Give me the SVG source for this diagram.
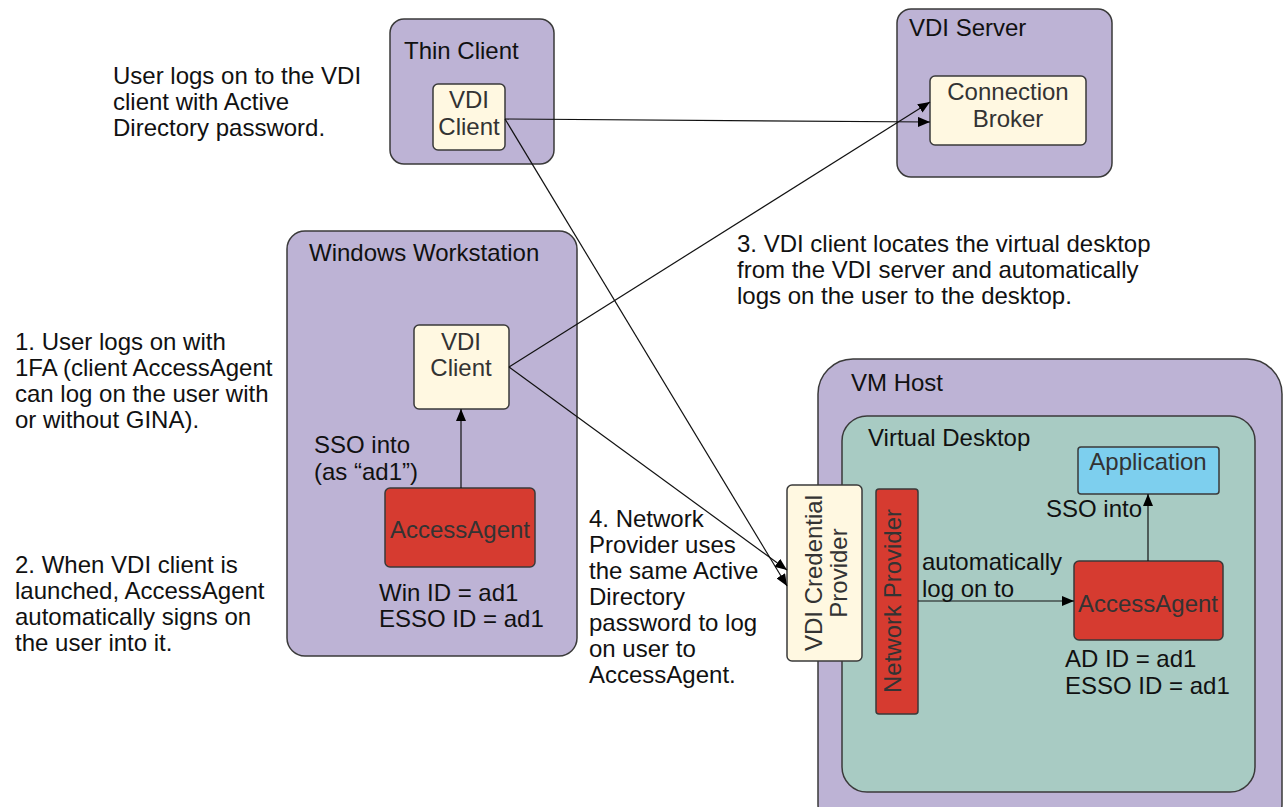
<svg xmlns="http://www.w3.org/2000/svg" width="1285" height="807" viewBox="0 0 1285 807">
<defs>
<style>
text{font-family:"Liberation Sans",Arial,sans-serif;font-size:24px;fill:#111}
.c{text-anchor:middle}
.ct{fill:#333}
.box{stroke:#3a3a3a;stroke-width:1.5}
.purple{fill:#bdb3d5}
.cream{fill:#fff8e1}
.red{fill:#d63b30}
.teal{fill:#a8cbc3}
.blue{fill:#7dcfee}
.conn{stroke:#111;stroke-width:1.2;fill:none;marker-end:url(#arr)}
</style>
<marker id="arr" viewBox="0 0 12 10" refX="12" refY="5" markerWidth="12" markerHeight="10" markerUnits="userSpaceOnUse" orient="auto">
<path d="M0,0 L12,5 L0,10 z" fill="#000"/>
</marker>
</defs>
<rect width="1285" height="807" fill="#fff"/>

<g id="note-user">
<text x="113" y="84">User logs on to the VDI</text>
<text x="113" y="110">client with Active</text>
<text x="113" y="136">Directory password.</text>
</g>
<g id="note-1">
<text x="15" y="350">1. User logs on with</text>
<text x="15" y="376">1FA (client AccessAgent</text>
<text x="15" y="402">can log on the user with</text>
<text x="15" y="428">or without GINA).</text>
</g>
<g id="note-2">
<text x="15" y="573">2. When VDI client is</text>
<text x="15" y="599">launched, AccessAgent</text>
<text x="15" y="625">automatically signs on</text>
<text x="15" y="651">the user into it.</text>
</g>
<g id="note-3">
<text x="737" y="252">3. VDI client locates the virtual desktop</text>
<text x="737" y="278">from the VDI server and automatically</text>
<text x="737" y="304">logs on the user to the desktop.</text>
</g>
<g id="note-4">
<text x="589" y="527">4. Network</text>
<text x="589" y="553">Provider uses</text>
<text x="589" y="579">the same Active</text>
<text x="589" y="605">Directory</text>
<text x="589" y="631">password to log</text>
<text x="589" y="657">on user to</text>
<text x="589" y="683">AccessAgent.</text>
</g>

<g id="thin-client">
<rect class="box purple" x="390" y="19" width="164" height="145" rx="14"/>
<text x="404" y="59">Thin Client</text>
</g>
<g id="thin-vdi-client">
<rect class="box cream" x="433" y="84" width="72" height="66" rx="5"/>
<text class="c ct" x="469" y="108">VDI</text>
<text class="c ct" x="469" y="135">Client</text>
</g>

<g id="vdi-server">
<rect class="box purple" x="897" y="9" width="215" height="168" rx="14"/>
<text x="909" y="36">VDI Server</text>
</g>
<g id="connection-broker">
<rect class="box cream" x="930" y="76" width="156" height="69" rx="5"/>
<text class="c ct" x="1008" y="100">Connection</text>
<text class="c ct" x="1008" y="127">Broker</text>
</g>

<g id="windows-workstation">
<rect class="box purple" x="287" y="231" width="290" height="425" rx="18"/>
<text x="309" y="261">Windows Workstation</text>
<text x="314" y="453">SSO into</text>
<text x="314" y="480">(as “ad1”)</text>
<text x="379" y="601">Win ID = ad1</text>
<text x="379" y="627">ESSO ID = ad1</text>
</g>
<g id="ws-vdi-client">
<rect class="box cream" x="414" y="325" width="95" height="84" rx="5"/>
<text class="c ct" x="461" y="350">VDI</text>
<text class="c ct" x="461" y="376">Client</text>
</g>
<g id="ws-accessagent">
<rect class="box red" x="385" y="488" width="150" height="79" rx="5"/>
<text class="c ct" x="460" y="538">AccessAgent</text>
</g>

<g id="vm-host">
<rect class="box purple" x="818" y="359" width="464" height="480" rx="35"/>
<text x="851" y="391">VM Host</text>
</g>
<g id="virtual-desktop">
<rect class="box teal" x="842" y="416" width="413" height="376" rx="25"/>
<text x="868" y="446">Virtual Desktop</text>
<text x="1046" y="517">SSO into</text>
<text x="922" y="570">automatically</text>
<text x="922" y="597">log on to</text>
<text x="1065" y="667">AD ID = ad1</text>
<text x="1065" y="694">ESSO ID = ad1</text>
</g>
<g id="application">
<rect class="box blue" x="1078" y="447" width="141" height="47" rx="3"/>
<text class="c ct" x="1148" y="470">Application</text>
</g>
<g id="vdi-credential-provider">
<rect class="box cream" x="787" y="485" width="75" height="176" rx="5"/>
<text class="c ct" transform="translate(822,573) rotate(-90)" x="0" y="0">VDI Credential</text>
<text class="c ct" transform="translate(847,573) rotate(-90)" x="0" y="0">Provider</text>
</g>
<g id="network-provider">
<rect class="box red" x="876" y="489" width="42" height="225" rx="3"/>
<text class="c ct" transform="translate(901,601) rotate(-90)" x="0" y="0">Network Provider</text>
</g>
<g id="vm-accessagent">
<rect class="box red" x="1074" y="561" width="149" height="79" rx="5"/>
<text class="c ct" x="1148" y="612">AccessAgent</text>
</g>

<g id="connectors">
<line class="conn" x1="505" y1="119" x2="930" y2="122"/>
<line class="conn" x1="505" y1="119" x2="787" y2="586"/>
<line class="conn" x1="509" y1="367" x2="930" y2="102"/>
<line class="conn" x1="509" y1="367" x2="787" y2="570"/>
<line class="conn" x1="461" y1="488" x2="461" y2="409"/>
<line class="conn" x1="918" y1="601" x2="1074" y2="601"/>
<line class="conn" x1="1148" y1="561" x2="1148" y2="494"/>
</g>
</svg>
